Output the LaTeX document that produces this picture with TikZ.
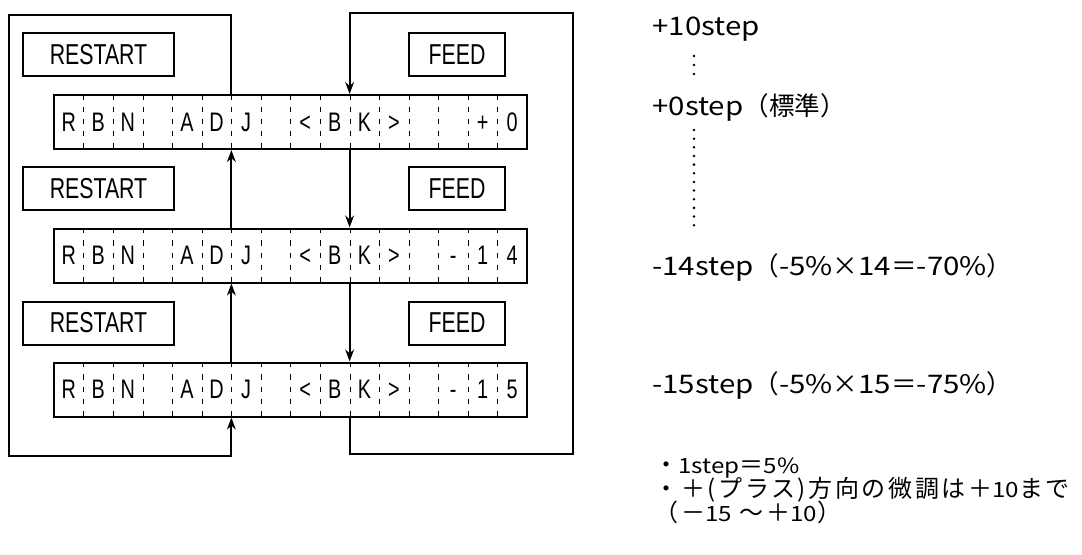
\documentclass[tikz,border=0pt]{standalone}
\usepackage{fontspec}
\usetikzlibrary{arrows.meta}
\newfontfamily\keyfont{Liberation Sans}[FakeStretch=0.74]
\newfontfamily\jpfont{Noto Sans CJK JP}
\newfontfamily\memofont{Noto Sans CJK JP}[LetterSpace=11]
\newfontfamily\latfont{Noto Sans CJK JP}[FakeStretch=1.15]
\newcommand\latrun[1]{{\latfont #1}}
\newcommand\smlat[1]{{\latfont\fontsize{10.5}{11}\selectfont #1}}

\tikzset{
  dispbox/.style={draw, line width=1pt, minimum width=236.5pt, minimum height=27pt, inner sep=0pt},
  cell/.style={minimum width=14.78pt, minimum height=27pt, text height=9.3pt, text depth=0pt,
    inner sep=0pt, font=\keyfont\fontsize{13.4}{15}\selectfont},
  keybox/.style={draw, line width=1pt, minimum height=21.5pt, inner sep=0pt,
    font=\keyfont\fontsize{14.4}{16}\selectfont},
  sep/.style={line width=0.5pt, dash pattern=on 2.6pt off 3.5pt},
  link/.style={line width=1.1pt},
  stepnote/.style={anchor=base west, inner sep=0pt, font=\jpfont\fontsize{12.8}{15}\selectfont},
  memo/.style={anchor=base west, inner sep=0pt, text height=9pt, text depth=1.5pt,
    font=\memofont\fontsize{12}{12}\selectfont},
}

\begin{document}
\begin{tikzpicture}[x=0.5pt, y=-0.5pt, >={Stealth[length=6pt,width=4.4pt]}]
    \useasboundingbox (0,0) rectangle (1082,554);

    % --- Coordinates ---
    \coordinate (L) at (231.375,0);
    \coordinate (R) at (349.625,0);
    \coordinate (lt) at (9,15);
    \coordinate (lb) at (9,456);
    \coordinate (rt) at (573,13);
    \coordinate (rb) at (573,454);

    % --- Displays ---
    \node[dispbox] (d1) at (290.5,122) {};
    \node[dispbox] (d2) at (290.5,255.5) {};
    \node[dispbox] (d3) at (290.5,389.5) {};

    % Characters, one per cell
    \foreach \c [count=\i] in {R,B,N,{},A,D,J,{},<,B,K,>,{},{},+,0}
        \node[cell] (a\i) at ({54+(\i-0.5)*29.5625},122) {\c};
    \foreach \c [count=\i] in {R,B,N,{},A,D,J,{},<,B,K,>,{},-,1,4}
        \node[cell] (b\i) at ({54+(\i-0.5)*29.5625},255.5) {\c};
    \foreach \c [count=\i] in {R,B,N,{},A,D,J,{},<,B,K,>,{},-,1,5}
        \node[cell] (c\i) at ({54+(\i-0.5)*29.5625},389.5) {\c};

    % Dashed cell borders
    \foreach \i in {1,...,15} {
        \draw[sep] (a\i.north east) -- (a\i.south east);
        \draw[sep] (b\i.north east) -- (b\i.south east);
        \draw[sep] (c\i.north east) -- (c\i.south east);
    }

    % --- Keys ---
    \node[keybox, minimum width=75.5pt] (rs1) at (98.5,54.5) {RESTART};
    \node[keybox, minimum width=75.5pt] (rs2) at (98.5,188.5) {RESTART};
    \node[keybox, minimum width=75.5pt] (rs3) at (98.5,323) {RESTART};
    \node[keybox, minimum width=48pt] (fd1) at (457,54.5) {FEED};
    \node[keybox, minimum width=48pt] (fd2) at (457,188.5) {FEED};
    \node[keybox, minimum width=48pt] (fd3) at (457,323) {FEED};

    % --- RESTART: step up ---
    \draw[link, ->] (d2.north -| L) -- (d1.south -| L);
    \draw[link, ->] (d3.north -| L) -- (d2.south -| L);
    \draw[link, ->] (d1.north -| L) |- (lt) -- (lb) -| (d3.south -| L);

    % --- FEED: step down ---
    \draw[link, ->] (d1.south -| R) -- (d2.north -| R);
    \draw[link, ->] (d2.south -| R) -- (d3.north -| R);
    \draw[link, ->] (d3.south -| R) |- (rb) -- (rt) -| (d1.north -| R);

    % --- Step values ---
    \node[stepnote] (p10) at (652,35) {\latrun{+10step}};
    \node[stepnote] (p0) at (652,115) {\latrun{+0step}（標準）};
    \node[stepnote] (m14) at (652,275) {\latrun{-14step}（\latrun{-5\%}×\latrun{14}＝\latrun{-70\%}）};
    \node[stepnote] (m15) at (652,393) {\latrun{-15step}（\latrun{-5\%}×\latrun{15}＝\latrun{-75\%}）};

    % vertical dots
    \foreach \y in {56,65,74}
        \fill (694,\y) circle (0.7pt);
    \foreach \k in {0,...,11}
        \fill (694,{130+\k*8.65}) circle (0.7pt);

    % --- Notes ---
    \node[memo] (n1) at (654,473) {・\smlat{1step}＝\smlat{5\%}};
    \node[memo] (n2) at (654,497) {・＋(プラス)方向の微調は＋\smlat{10}まで};
    \node[memo] (n3) at (654,521) {（－\smlat{15} ～＋\smlat{10}）};

\end{tikzpicture}
\end{document}
